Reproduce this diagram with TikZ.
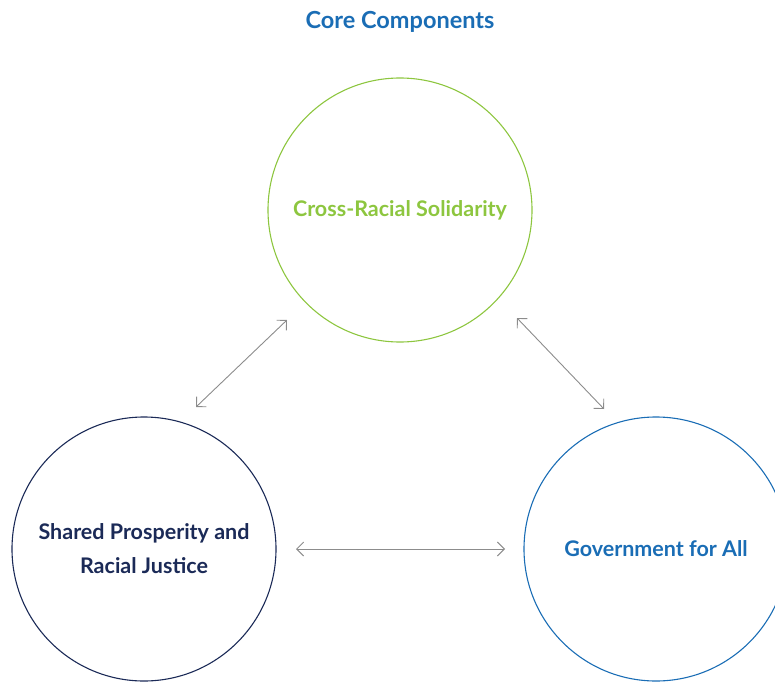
\documentclass[tikz,border=0pt]{standalone}
\usepackage{fontspec}
\setmainfont{Lato}
\usepackage{tikz}
\usetikzlibrary{arrows.meta}
\definecolor{leafgreen}{HTML}{8DC63F}
\definecolor{navyblue}{HTML}{1B2A57}
\definecolor{corpblue}{HTML}{1A6DB5}
\definecolor{arrowgray}{HTML}{8C8C8C}

\begin{document}
\begin{tikzpicture}[x=1pt, y=-1pt,
        comp/.style={circle, draw, line width=1.1pt, minimum size=264pt, inner sep=0pt, align=center, font=\fontsize{21.5}{34}\selectfont\bfseries},
        link/.style={draw=arrowgray, line width=0.9pt, {Straight Barb[length=7pt,width=14pt]}-{Straight Barb[length=7pt,width=14pt]}}]
        \useasboundingbox (0, 0) rectangle (775, 682);
        \node[text=corpblue, font=\fontsize{23.5}{26}\selectfont\bfseries] at (400, 22) (title) {Core Components};

        \node[comp, draw=leafgreen, text=leafgreen] at (400, 210) (crs) {Cross-Racial Solidarity};
        \node[comp, draw=navyblue, text=navyblue] at (144, 549) (spr) {Shared Prosperity and\\Racial Justice};
        \node[comp, draw=corpblue, text=corpblue] at (656, 549) (gfa) {Government for All};

        \coordinate (a1) at (196, 407); \coordinate (a2) at (287, 320);
        \coordinate (b1) at (517, 318); \coordinate (b2) at (604, 409);
        \coordinate (c1) at (296, 549); \coordinate (c2) at (505, 549);
        \draw [link] (a1) -- (a2);\draw [link] (b1) -- (b2);\draw [link] (c1) -- (c2);
    \end{tikzpicture}
\end{document}
